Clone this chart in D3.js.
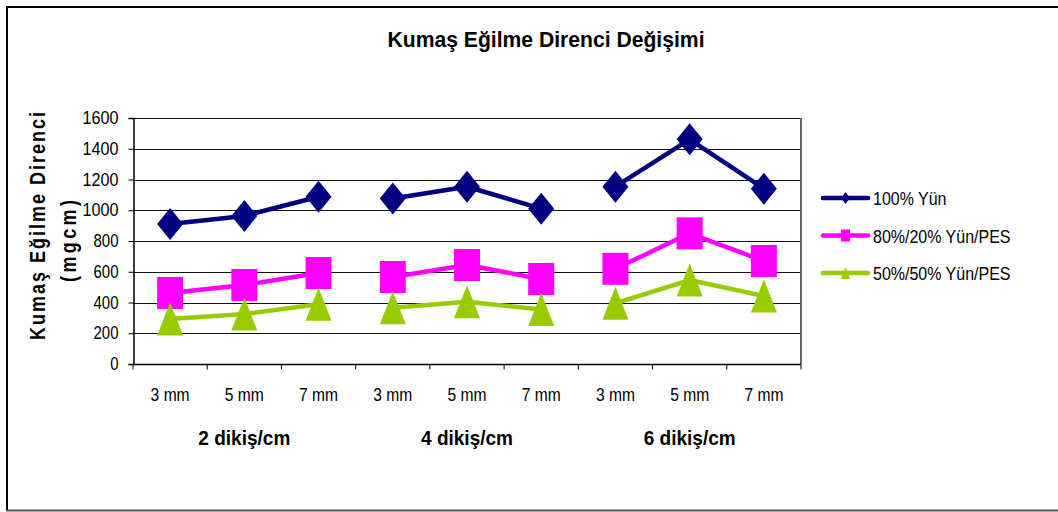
<!DOCTYPE html>
<html>
<head>
<meta charset="utf-8">
<script src="https://cdn.jsdelivr.net/npm/d3@7"></script>
<style>
  html, body { margin: 0; padding: 0; background: #fff; }
  svg { display: block; font-family: "Liberation Sans", Arial, sans-serif; }
</style>
</head>
<body>
<svg id="chart" width="1058" height="512"></svg>
<script>
// Stitch length categories, repeated for each stitch density group
const categories = ["3 mm", "5 mm", "7 mm", "3 mm", "5 mm", "7 mm", "3 mm", "5 mm", "7 mm"];
const groups = ["2 dikiş/cm", "4 dikiş/cm", "6 dikiş/cm"];
const yTicks = [0, 200, 400, 600, 800, 1000, 1200, 1400, 1600];

// Bending rigidity (mgcm) per fabric blend
const yun100 = [910, 963, 1088, 1077, 1153, 1010, 1153, 1461, 1140];
const yunPes8020 = [462, 514, 592, 566, 644, 553, 619, 850, 670];
const yunPes5050 = [293, 325, 388, 366, 405, 355, 395, 546, 442];

const seriesNames = ["100% Yün", "80%/20% Yün/PES", "50%/50% Yün/PES"];
const seriesColors = ["#000080", "#FF00FF", "#99CC00"];
const seriesShapes = ["diamond", "square", "triangle"];

const series = [yun100, yunPes8020, yunPes5050].map((values, i) => ({
  name: seriesNames[i], color: seriesColors[i], shape: seriesShapes[i], values
}));

const svg = d3.select("#chart");
const plot = { left: 133, right: 801, top: 118, bottom: 364 };

const x = d3.scaleBand().domain(d3.range(categories.length)).range([plot.left, plot.right]).padding(0);
const y = d3.scaleLinear().domain([0, 1600]).range([plot.bottom, plot.top]);

// Text in this chart is drawn slightly tall and narrow
const TALL = 1.2;

// Outer frame
svg.append("line").attr("x1", 7).attr("x2", 7).attr("y1", 7).attr("y2", 510).attr("stroke", "#000").attr("stroke-width", 2);
svg.append("line").attr("x1", 6).attr("x2", 1058).attr("y1", 7).attr("y2", 7).attr("stroke", "#000").attr("stroke-width", 2);
svg.append("line").attr("x1", 6).attr("x2", 1058).attr("y1", 510.5).attr("y2", 510.5).attr("stroke", "#555").attr("stroke-width", 2);

// Title
svg.append("text")
  .attr("transform", `translate(546,47) scale(1,${TALL})`)
  .attr("text-anchor", "middle")
  .attr("font-size", 19).attr("font-weight", "bold")
  .attr("textLength", 317).attr("lengthAdjust", "spacingAndGlyphs")
  .text("Kumaş Eğilme Direnci Değişimi");

// Horizontal gridlines
svg.append("g").selectAll("line")
  .data(yTicks.filter(d => d > 0))
  .join("line")
  .attr("x1", plot.left).attr("x2", plot.right)
  .attr("y1", d => Math.round(y(d)) + 0.5).attr("y2", d => Math.round(y(d)) + 0.5)
  .attr("stroke", "#111").attr("stroke-width", 1);

// Right border of plot area
svg.append("line")
  .attr("x1", plot.right).attr("x2", plot.right)
  .attr("y1", plot.top).attr("y2", plot.bottom)
  .attr("stroke", "#666").attr("stroke-width", 2);

// Y axis
const yAxis = svg.append("g")
  .attr("transform", `translate(${plot.left + 0.5},0)`)
  .call(d3.axisLeft(y).tickValues(yTicks).tickSize(5).tickPadding(10).tickFormat(d3.format("d")));
yAxis.select(".domain").attr("stroke", "#000").attr("stroke-width", 1.5);
yAxis.selectAll(".tick line").attr("stroke", "#000");
yAxis.selectAll(".tick text")
  .attr("font-size", 15).attr("fill", "#000")
  .attr("font-family", "'Liberation Sans', Arial, sans-serif")
  .attr("dy", null)
  .attr("transform", `translate(0,5.5) scale(1,${TALL})`)
  .attr("textLength", 36).attr("lengthAdjust", "spacingAndGlyphs");
yAxis.selectAll(".tick text").filter(d => d < 1000).attr("textLength", null);

// X axis: ticks on category boundaries
const xAxisG = svg.append("g").attr("transform", `translate(0,${plot.bottom + 0.5})`);
xAxisG.append("line").attr("x1", plot.left).attr("x2", plot.right).attr("stroke", "#000").attr("stroke-width", 1.5);
xAxisG.selectAll("line.tick")
  .data(d3.range(categories.length + 1))
  .join("line").attr("class", "tick")
  .attr("x1", i => i < categories.length ? x(i) : plot.right)
  .attr("x2", i => i < categories.length ? x(i) : plot.right)
  .attr("y1", 0).attr("y2", 5)
  .attr("stroke", "#000");
xAxisG.selectAll("text.cat")
  .data(categories)
  .join("text").attr("class", "cat")
  .attr("transform", (d, i) => `translate(${x(i) + x.bandwidth() / 2},36) scale(1,${TALL})`)
  .attr("text-anchor", "middle")
  .attr("font-size", 16)
  .attr("textLength", 39).attr("lengthAdjust", "spacingAndGlyphs")
  .text(d => d);

// Group labels under each set of three categories
svg.append("g").selectAll("text")
  .data(groups)
  .join("text")
  .attr("transform", (d, g) => `translate(${x(g * 3) + x.bandwidth() * 1.5},445) scale(1,${TALL})`)
  .attr("text-anchor", "middle")
  .attr("font-size", 17).attr("font-weight", "bold")
  .attr("textLength", 92).attr("lengthAdjust", "spacingAndGlyphs")
  .text(d => d);

// Y axis title
const yTitle = svg.append("g");
yTitle.append("text")
  .attr("transform", `translate(45,226) rotate(-90) scale(1,${TALL})`)
  .attr("text-anchor", "middle")
  .attr("font-size", 18).attr("font-weight", "bold")
  .attr("textLength", 228).attr("lengthAdjust", "spacing")
  .text("Kumaş Eğilme Direnci");
yTitle.append("text")
  .attr("transform", `translate(76,241) rotate(-90) scale(1,${TALL})`)
  .attr("text-anchor", "middle")
  .attr("font-size", 18).attr("font-weight", "bold")
  .attr("textLength", 82).attr("lengthAdjust", "spacing")
  .text("(mgcm)");

// Marker path generators (markers are taller than wide)
function markerPath(shape, w, h) {
  const hw = w / 2, hh = h / 2;
  if (shape === "diamond") return `M0,${-hh}L${hw},0L0,${hh}L${-hw},0Z`;
  if (shape === "square") return `M${-hw},${-hh}H${hw}V${hh}H${-hw}Z`;
  return `M0,${-hh}L${hw},${hh}H${-hw}Z`;
}

const line = d3.line()
  .x(d => x(d.i) + x.bandwidth() / 2)
  .y(d => y(d.v));

// Series: each group of three categories is drawn as its own segment
const seriesG = svg.append("g").selectAll("g").data(series).join("g");
seriesG.each(function (s) {
  const g = d3.select(this);
  groups.forEach((grp, gi) => {
    const pts = d3.range(gi * 3, gi * 3 + 3).map(i => ({ i, v: s.values[i] }));
    g.append("path")
      .attr("d", line(pts))
      .attr("fill", "none")
      .attr("stroke", s.color)
      .attr("stroke-width", 4.5)
      .attr("stroke-linejoin", "round");
  });
  g.selectAll("path.marker")
    .data(s.values.map((v, i) => ({ i, v })))
    .join("path").attr("class", "marker")
    .attr("transform", d => `translate(${x(d.i) + x.bandwidth() / 2},${y(d.v)})`)
    .attr("d", markerPath(s.shape, 26, s.shape === "triangle" ? 33 : 32))
    .attr("fill", s.color);
});

// Legend
const legend = svg.append("g").selectAll("g")
  .data(series)
  .join("g")
  .attr("transform", (d, i) => `translate(823,${198 + i * 37.5})`);
legend.append("line")
  .attr("x1", 0).attr("x2", 45)
  .attr("stroke", d => d.color).attr("stroke-width", 4.5)
  .attr("stroke-linecap", "round");
legend.append("path")
  .attr("transform", "translate(22.5,0)")
  .attr("d", d => markerPath(d.shape, 9, 12))
  .attr("fill", d => d.color);
legend.append("text")
  .attr("transform", `translate(50,7) scale(1,${TALL})`)
  .attr("font-size", 16)
  .text(d => d.name);
</script>
</body>
</html>
